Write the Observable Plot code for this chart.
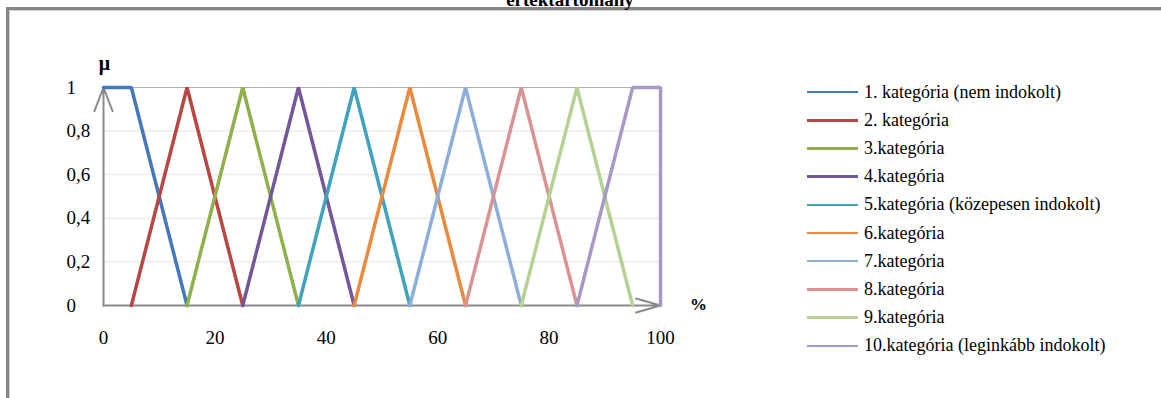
<!DOCTYPE html>
<html>
<head>
<meta charset="utf-8">
<script src="https://cdn.jsdelivr.net/npm/d3@7"></script>
<script src="https://cdn.jsdelivr.net/npm/@observablehq/plot@0.6"></script>
<style>
  html, body { margin: 0; padding: 0; background: #fff; overflow: hidden; width: 1161px; height: 398px; }
  #frame { position: absolute; left: 6px; top: 7px; width: 1200px; height: 420px;
           border-top: 3px solid #868686; border-left: 3px solid #868686; box-shadow: inset 1px 1px 0 #d0d0d0; }
  #title { position: absolute; left: 0; width: 1140px; top: -11px; text-align: center;
           font: bold 19px "Times New Roman", "Liberation Serif", "DejaVu Serif", serif; color: #000; }
  #chart { position: absolute; left: 0; top: 0; }
  #legend { position: absolute; left: 807px; top: 78px; font: 18px "Times New Roman", "Liberation Serif", "DejaVu Serif", serif; color: #000; }
  .row { height: 28.2px; display: flex; align-items: center; white-space: nowrap; }
  .sw { width: 51px; height: 2.5px; margin-right: 6px; }
</style>
</head>
<body>
<div id="frame"></div>
<div id="title">értéktartomány</div>
<div id="chart"></div>
<div id="legend"></div>
<script>
const categories = [
  "1. kategória (nem indokolt)",
  "2. kategória",
  "3.kategória",
  "4.kategória",
  "5.kategória (közepesen indokolt)",
  "6.kategória",
  "7.kategória",
  "8.kategória",
  "9.kategória",
  "10.kategória (leginkább indokolt)"
];
const colors = ["#4677ba","#b84743","#8fb04a","#74579a","#3fa3bd","#ea8a3c","#8eaedb","#d99392","#b5d293","#a898c7"];
const xPoints = [
  [0, 5, 15],
  [5, 15, 25],
  [15, 25, 35],
  [25, 35, 45],
  [35, 45, 55],
  [45, 55, 65],
  [55, 65, 75],
  [65, 75, 85],
  [75, 85, 95],
  [85, 95, 100, 100]
];
const yPoints = [
  [1, 1, 0],
  [0, 1, 0],
  [0, 1, 0],
  [0, 1, 0],
  [0, 1, 0],
  [0, 1, 0],
  [0, 1, 0],
  [0, 1, 0],
  [0, 1, 0],
  [0, 1, 1, 0]
];
const xTicks = [0, 20, 40, 60, 80, 100];
const yTicks = [0, 0.2, 0.4, 0.6, 0.8, 1];
const yTickLabels = ["0", "0,2", "0,4", "0,6", "0,8", "1"];
const yLabel = "μ";
const xLabel = "%";

const lineData = [];
categories.forEach((c, i) => {
  xPoints[i].forEach((x, j) => lineData.push({cat: c, x, y: yPoints[i][j]}));
});

const serif = "'Times New Roman', 'Liberation Serif', 'DejaVu Serif', serif";

const chart = Plot.plot({
  width: 1161,
  height: 398,
  marginLeft: 103,
  marginRight: 501,
  marginTop: 87,
  marginBottom: 93,
  x: {domain: [0, 100]},
  y: {domain: [0, 1]},
  color: {domain: categories, range: colors},
  style: {fontFamily: serif, fontSize: "19px", color: "#000", background: "transparent", overflow: "visible"},
  marks: [
    Plot.gridY(yTicks.slice(1, 5), {stroke: "#e4e4e4", strokeOpacity: 1, strokeWidth: 1}),
    Plot.ruleY([1], {stroke: "#b0b0b0", strokeWidth: 1}),
    Plot.arrow([{x1: 0, y1: 0, x2: 0, y2: 1}], {x1: "x1", y1: "y1", x2: "x2", y2: "y2", stroke: "#8a8a8a", strokeWidth: 2, headLength: 19, headAngle: 42}),
    Plot.arrow([{x1: 0, y1: 0, x2: 100, y2: 0}], {x1: "x1", y1: "y1", x2: "x2", y2: "y2", stroke: "#8a8a8a", strokeWidth: 2, headLength: 19, headAngle: 32}),
    Plot.line(lineData, {x: "x", y: "y", z: "cat", stroke: "cat", strokeWidth: 3.5, strokeLinejoin: "miter"}),
    Plot.axisX(xTicks, {tickSize: 0, tickPadding: 25, label: null, tickFormat: d => String(d)}),
    Plot.axisY(yTicks, {tickSize: 0, label: null, textAnchor: "start", dx: -28, tickFormat: (d) => yTickLabels[yTicks.indexOf(d)]}),
    Plot.text([{x: 0, y: 1, t: yLabel}], {x: "x", y: "y", text: "t", dy: -24, dx: 1, fontWeight: "bold", fontSize: 20, textAnchor: "middle"}),
    Plot.text([{x: 100, y: 0, t: xLabel}], {x: "x", y: "y", text: "t", dx: 38, dy: -1, fontWeight: "bold", fontSize: 17, textAnchor: "middle"})
  ]
});
document.getElementById("chart").appendChild(chart);

const legend = document.getElementById("legend");
categories.forEach((c, i) => {
  const row = document.createElement("div");
  row.className = "row";
  const sw = document.createElement("span");
  sw.className = "sw";
  sw.style.background = colors[i];
  const t = document.createElement("span");
  t.textContent = c;
  row.appendChild(sw);
  row.appendChild(t);
  legend.appendChild(row);
});
</script>
</body>
</html>
